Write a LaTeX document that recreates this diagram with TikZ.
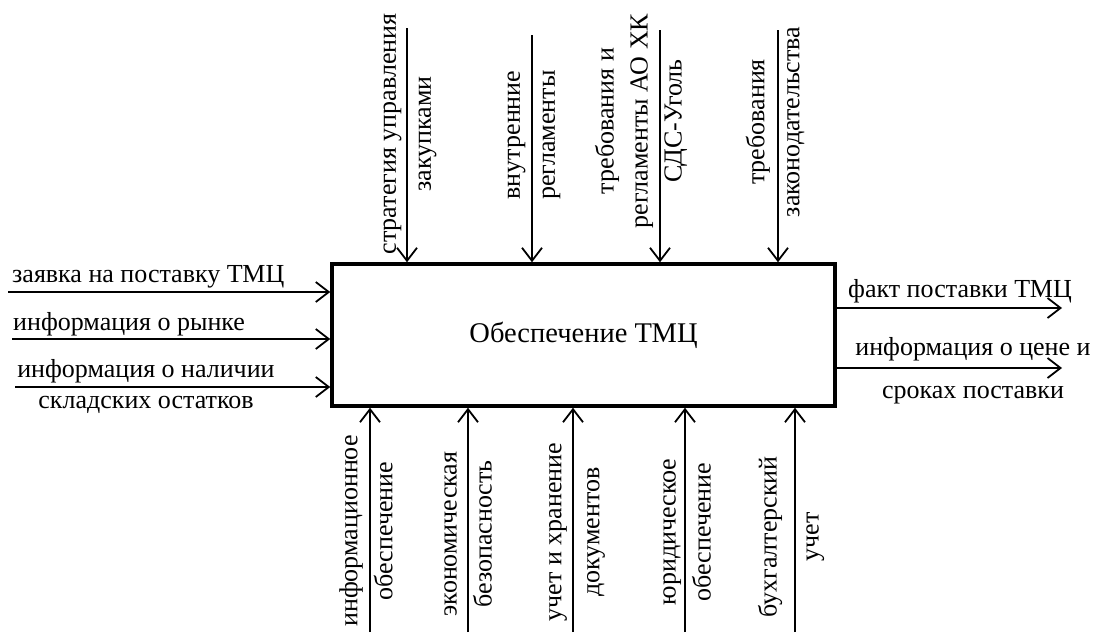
\documentclass[tikz,border=0pt]{standalone}
\usepackage{fontspec}
\setmainfont{Liberation Serif}
\usetikzlibrary{arrows.meta}
\begin{document}
\begin{tikzpicture}[x=1pt,y=-1pt,
  lbl/.style={font=\fontsize{26}{35}\selectfont, inner sep=0pt},
  vlbl/.style={lbl, rotate=90, align=center},
  arr/.style={line width=1.8pt, -{Straight Barb[length=13pt,width=20pt]}},
  mainbox/.style={draw, line width=3.5pt, minimum width=503pt, minimum height=142pt, inner sep=0pt, font=\fontsize{28.5}{32}\selectfont}
]
\useasboundingbox (0,0) rectangle (1094,632);
\node[mainbox] (main) at (583.5,335) {Обеспечение ТМЦ};

% inputs
\coordinate (i1) at (8,292);
\coordinate (i2) at (12,339);
\coordinate (i3) at (15,387);
\draw[arr] (i1) -- (i1 -| main.west);
\draw[arr] (i2) -- (i2 -| main.west);
\draw[arr] (i3) -- (i3 -| main.west);
\node[lbl, anchor=base west] (ti1) at (12,282) {заявка на поставку ТМЦ};
\node[lbl, anchor=base west] (ti2) at (13,330) {информация о рынке};
\node[lbl, align=center, font=\fontsize{26}{31}\selectfont] (ti3) at (146,386) {информация о наличии\\складских остатков};

% outputs
\coordinate (o1) at (1062,308);
\coordinate (o2) at (1062,368);
\draw[arr] (o1 -| main.east) -- (o1);
\draw[arr] (o2 -| main.east) -- (o2);
\node[lbl, anchor=base west] (to1) at (848,297) {факт поставки ТМЦ};
\node[lbl, align=center, font=\fontsize{26}{43}\selectfont] (to2) at (973,371) {информация о цене и\\сроках поставки};

% controls
\coordinate (c1) at (407,28);
\coordinate (c2) at (532,35);
\coordinate (c3) at (660,30);
\coordinate (c4) at (778,30);
\draw[arr] (c1) -- (c1 |- main.north);
\draw[arr] (c2) -- (c2 |- main.north);
\draw[arr] (c3) -- (c3 |- main.north);
\draw[arr] (c4) -- (c4 |- main.north);
\node[vlbl] (tc1) at (410,134) {стратегия управления\\закупками};
\node[vlbl] (tc2) at (534,135) {внутренние\\регламенты};
\node[vlbl, font=\fontsize{26}{34}\selectfont] (tc3) at (641,121) {требования и\\регламенты АО ХК\\СДС-Уголь};
\node[vlbl] (tc4) at (775,122) {требования\\законодательства};

% mechanisms
\coordinate (m1) at (370,632);
\coordinate (m2) at (468,632);
\coordinate (m3) at (573,632);
\coordinate (m4) at (685,632);
\coordinate (m5) at (795,632);
\draw[arr] (m1) -- (m1 |- main.south);
\draw[arr] (m2) -- (m2 |- main.south);
\draw[arr] (m3) -- (m3 |- main.south);
\draw[arr] (m4) -- (m4 |- main.south);
\draw[arr] (m5) -- (m5 |- main.south);
\node[vlbl] (tm1) at (366,531) {информационное\\обеспечение};
\node[vlbl] (tm2) at (468,534) {экономическая\\безопасность};
\node[vlbl, font=\fontsize{26}{38}\selectfont] (tm3) at (577,532) {учет и хранение\\документов};
\node[vlbl] (tm4) at (687,532) {юридическое\\обеспечение};
\node[vlbl, font=\fontsize{26}{42}\selectfont] (tm5) at (791,537) {бухгалтерский\\учет};
\end{tikzpicture}
\end{document}
